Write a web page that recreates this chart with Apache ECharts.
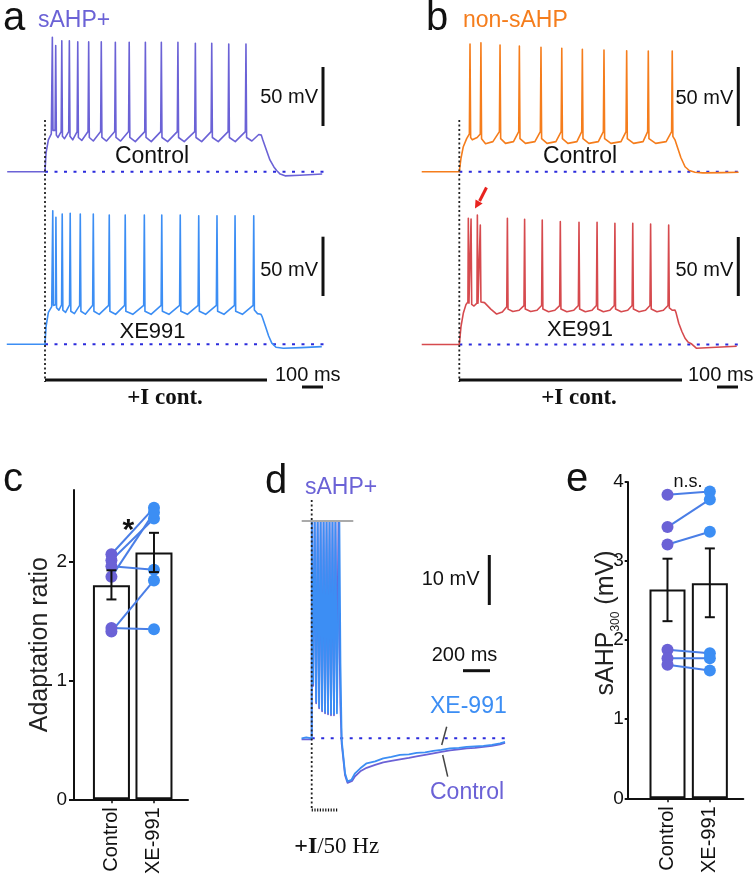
<!DOCTYPE html>
<html>
<head>
<meta charset="utf-8">
<title>sAHP / XE991</title>
<script src="https://cdn.jsdelivr.net/npm/echarts@6/dist/echarts.min.js"></script>
<style>
  html, body { margin: 0; padding: 0; background: #fff; }
  #chart { width: 755px; height: 877px; }
</style>
</head>
<body>
<div id="chart"></div>
<script>
// ---- traces (time ms, membrane potential mV) ----
const aControl = [
  [-180,-65],[0,-65],[5,-49],[16,-38],[30,-33],
  [35,49],[38,-30],[44,-31],[48,-30],
  [51,42],[54,-34],[62,-36],[77,-31],
  [80,46],[83,-35],[93,-37],[113,-31],
  [116,46],[119,-35],[132,-38],[153,-31],
  [156,45],[159,-36],[175,-38.5],[205,-31],
  [208,45],[211,-36],[230,-39],[265,-31],
  [268,45],[271,-36],[293,-39],[332,-31],
  [335,44.7],[338,-36],[360,-39],[398,-31],
  [401,44.7],[404,-36],[430,-39.5],[475,-31],
  [478,44.7],[481,-36],[506,-39.5],[551,-31],
  [554,44.7],[557,-36],[584,-39.5],[630,-31],
  [633,44.7],[636,-36],[663,-39.5],[713,-31],
  [716,43.8],[719,-36],[746,-39.5],[791,-31],
  [794,43.8],[797,-36],[825,-39.5],[872,-31],
  [875,43.2],[878,-36],[906,-39.5],[954,-31],
  [957,43.2],[960,-36],[985,-39],[1018,-33.5],[1024,-32],[1030,-34],[1037,-38],
  [1055,-47],[1071,-55],[1090,-61],[1103,-64],[1120,-67],[1143,-68.5],[1214,-68],[1320,-67]
];
const aXE991 = [
  [-182,-65],[0,-65],[5,-50],[16,-38],[32,-33],
  [37,48.2],[40,-32],[46,-33],[50,-31.5],
  [52,42.6],[55,-34],[66,-36],[79,-31.5],
  [82,45.4],[85,-36],[98,-38],[117,-31.5],
  [120,46],[123,-37],[140,-39],[165,-32],
  [168,45.4],[171,-37],[192,-39.5],[227,-32],
  [230,45.4],[233,-37],[258,-39.6],[303,-32],
  [306,44.6],[309,-37],[336,-39.6],[379,-32],
  [382,44.6],[385,-37],[418,-39.6],[470,-32],
  [473,44.6],[476,-37],[505,-39.6],[553,-32],
  [556,44.6],[559,-37],[590,-39.6],[641,-32],
  [644,44.6],[647,-37],[678,-39.6],[729,-32],
  [732,44],[735,-37],[765,-39.6],[816,-32],
  [819,44],[822,-37],[852,-39.6],[902,-32],
  [905,44],[908,-37],[940,-39.6],[991,-32],
  [994,44],[997,-36],[1012,-39],[1028,-39.5],[1035,-42],[1050,-50],[1065,-58],
  [1080,-64],[1100,-67.5],[1135,-68.4],[1220,-67.8],[1318,-67]
];
const bControl = [
  [-179,-65],[0,-65],[8,-53.6],[19,-43.8],[35,-37],[48,-33],
  [51,43.2],[54,-36],[62,-38],[85,-36],[100,-33],
  [103,44.3],[106,-37],[125,-41.3],[160,-39.5],[191,-31],
  [194,42.4],[197,-37],[220,-41],[258,-39.5],[283,-31],
  [286,41.5],[289,-37],[315,-41],[360,-39.5],[386,-31],
  [389,40.4],[392,-37],[418,-41],[460,-39.5],[485,-31],
  [488,39.6],[491,-37],[517,-41],[560,-39.5],[583,-31],
  [586,38.7],[589,-37],[617,-41],[662,-39.5],[686,-31],
  [689,38.1],[692,-37],[722,-41],[770,-39.5],[794,-31],
  [797,37.5],[800,-37],[830,-41],[875,-39.5],[897,-31],
  [900,37.3],[903,-37],[935,-41],[985,-39.5],[1011,-31],
  [1014,37.3],[1017,-35],[1027,-38],[1040,-45],[1055,-53],[1075,-60.8],[1095,-64],
  [1122,-65.5],[1160,-66],[1250,-65.8],[1330,-65.5]
];
const bXE991 = [
  [-179,-65],[0,-65],[8,-49.9],[19,-38.6],[32,-31],[41,-29],
  [43,42],[46,-30],[50,-31],[54,-29.5],
  [56,41.4],[59,-31],[70,-32.4],[84,-30],
  [86,44.7],[89,-30],[95,-30],[98,-29],
  [100,36.3],[103,-29],[120,-29.5],[150,-35],[178,-39.2],[205,-37.5],[226,-33],
  [229,42],[232,-35],[255,-37],[285,-36],[308,-32],
  [311,41.1],[314,-35],[340,-37],[370,-36],[392,-32],
  [395,40.5],[398,-35],[425,-37.2],[455,-36],[478,-32],
  [481,39.1],[484,-35],[512,-37.2],[545,-36],[567,-32],
  [570,38.6],[573,-35],[600,-37.2],[632,-36],[653,-32],
  [656,38.6],[659,-35],[686,-37.2],[717,-36],[738,-32],
  [741,37.7],[744,-35],[771,-37.2],[802,-36],[823,-32],
  [826,37.7],[829,-35],[856,-37.2],[887,-36],[908,-32],
  [911,37.1],[914,-35],[941,-37.2],[972,-36],[994,-32],
  [997,36.3],[1000,-34],[1015,-36],[1027,-35.8],[1032,-38],[1045,-47],[1060,-54],
  [1075,-59.7],[1090,-63],[1107,-64.6],[1130,-68.2],[1200,-67.5],[1321,-66.5]
];
// panel d: 50 Hz train then slow AHP (spikes clipped at the grey line)
const dControl = [
  [-75,-65.2],[0,-65.2],[1,-21.5],[11,-54.5],[22,-21.5],[33,-58],[44,-21.5],[55,-59],
  [66,-21.5],[77,-59.6],[88,-21.5],[99,-60],[110,-21.5],[121,-60.2],[132,-21.5],
  [143,-60.4],[154,-21.5],[165,-60.4],[176,-21.5],[187,-54],[198,-21.5],[204,-40],
  [212,-58],[222,-66],[247,-72.4],[265,-73.9],[279,-74.3],[300,-73.5],[321,-72.6],
  [360,-71.6],[407,-70.9],[470,-70.3],[530,-69.8],[590,-69.5],[654,-69.2],[720,-68.9],
  [777,-68.6],[840,-68.3],[901,-68],[960,-67.7],[1024,-67.4],[1090,-67.2],[1148,-67],
  [1210,-66.9],[1272,-66.7],[1335,-66.5],[1395,-66.2],[1432,-65.9]
];
const dXE991 = [
  [-75,-65],[-40,-64.8],[0,-65],[1,-21.5],[11,-54],[22,-21.5],[33,-57.7],[44,-21.5],
  [55,-58.7],[66,-21.5],[77,-59.3],[88,-21.5],[99,-59.7],[110,-21.5],[121,-59.9],
  [132,-21.5],[143,-60.1],[154,-21.5],[165,-60.1],[176,-21.5],[187,-60],[205,-21.5],
  [213,-50],[222,-65.3],[247,-72],[265,-73.6],[279,-74],[295,-73.3],[321,-72],
  [360,-71],[407,-70],[470,-69.6],[530,-69],[590,-68.7],[654,-68.3],[720,-68.2],
  [777,-67.9],[840,-67.8],[901,-67.5],[960,-67.3],[1024,-67],[1090,-66.9],[1148,-66.7],
  [1210,-66.6],[1272,-66.5],[1335,-66.3],[1395,-66],[1432,-65.7]
];
const restA = [[0,-65],[1348,-65]];
const restB = [[0,-65],[1351,-65]];
const restD = [[0,-65],[1469,-65]];

// ---- panel c: adaptation ratio ----
const groups = ['Control', 'XE-991'];
const cMean = [1.80, 2.075];
const cLow = [1.68, 1.91];
const cHigh = [1.925, 2.24];
const cControl = [2.06, 2.01, 1.96, 1.87, 1.41, 1.44];
const cXE991 = [2.45, 2.36, 1.93, 2.41, 1.84, 1.43];
const cTicks = [0, 1, 2];

// ---- panel e: sAHP300 (mV) ----
const eMean = [2.64, 2.72];
const eLow = [2.24, 2.29];
const eHigh = [3.03, 3.16];
const eControl = [3.84, 3.43, 3.21, 1.88, 1.77, 1.69];
const eXE991 = [3.88, 3.78, 3.37, 1.835, 1.77, 1.615];
const eTicks = [0, 1, 2, 3, 4];

const SANS = '"Liberation Sans", Arial, Helvetica, sans-serif';
const SERIF = '"Liberation Serif", "Times New Roman", serif';
const PURPLE = '#6b62d6';
const BLUE = '#3c8ef4';
const ORANGE = '#f57d1c';
const RED = '#d64a4e';
const PAIR = '#4a7ee6';
const DOTBLUE = '#2b2bdc';

const chart = echarts.init(document.getElementById('chart'), null, { renderer: 'canvas' });

// trace panels are placed so that 100 ms = 21 px and 50 mV = 59 px (a, b); 200 ms = 27 px, 10 mV = 50 px (d)
const grid = [
  { left: 7.2, top: 30.1, width: 321.3, height: 153.4 },
  { left: 7.2, top: 202.7, width: 321.3, height: 153.4 },
  { left: 421.5, top: 30.1, width: 321.3, height: 153.4 },
  { left: 421.5, top: 202.9, width: 321.3, height: 153.4 },
  { left: 300.9, top: 513.3, width: 209.25, height: 300 },
  { left: 74, top: 490, width: 114, height: 310 },
  { left: 627.7, top: 482, width: 115.6, height: 316.3 }
];

const hidden = (i, min, max) => ({ gridIndex: i, type: 'value', min, max, show: false });

function barAxes(i, xMin, xMax, yMax, ticks, name, tickLen, labelMargin) {
  const x = {
    gridIndex: i, type: 'value', min: xMin, max: xMax,
    axisLine: { show: true, onZero: false, lineStyle: { color: '#111', width: 2 } },
    axisTick: { show: true, customValues: [1, 2], length: 4, lineStyle: { color: '#111', width: 1.5 } },
    axisLabel: {
      customValues: [1, 2], rotate: 90, margin: 8,
      formatter: v => groups[Math.round(v) - 1] || '',
      fontFamily: SANS, fontSize: 20, color: '#111'
    },
    splitLine: { show: false }
  };
  const y = {
    gridIndex: i, type: 'value', min: 0, max: yMax, interval: 1,
    axisLine: { show: true, lineStyle: { color: '#111', width: 2 } },
    axisTick: { show: true, customValues: ticks, length: tickLen, lineStyle: { color: '#111', width: 2 } },
    axisLabel: { customValues: ticks, margin: labelMargin, fontFamily: SANS, fontSize: 19, color: '#111' },
    splitLine: { show: false }
  };
  if (name) {
    Object.assign(y, { name: name.text, nameLocation: 'middle', nameGap: name.gap, nameRotate: 90,
      nameTextStyle: name.style });
  }
  return [x, y];
}

const [cx, cy] = barAxes(5, 0.12, 2.8, 2.6, cTicks,
  { text: 'Adaptation ratio', gap: 19, style: { fontFamily: SANS, fontSize: 25, color: '#222' } }, 5, 7);
const [ex, ey] = barAxes(6, 0.06, 2.79, 4, eTicks, null, 3, 4);

const xAxis = [
  hidden(0, -180, 1350), hidden(1, -180, 1350), hidden(2, -180, 1350), hidden(3, -180, 1350),
  hidden(4, -80, 1470), cx, ex
];
const yAxis = [
  hidden(0, -75, 55), hidden(1, -75, 55), hidden(2, -75, 55), hidden(3, -75, 55),
  hidden(4, -80, -20), cy, ey
];

function trace(i, data, color, width) {
  return {
    type: 'line', xAxisIndex: i, yAxisIndex: i, data, showSymbol: false, symbol: 'none',
    lineStyle: { color, width: width || 1.6, join: 'round' }, silent: true, z: 3
  };
}
function rest(i, data) {
  return {
    type: 'line', xAxisIndex: i, yAxisIndex: i, data, symbol: 'none', silent: true, z: 2,
    lineStyle: { color: DOTBLUE, width: 2, type: [3, 6.5] }
  };
}
function errorBars(i, low, high) {
  return {
    type: 'custom', xAxisIndex: i, yAxisIndex: i, z: 6, silent: true,
    data: low.map((l, k) => [k + 1, l, high[k]]),
    renderItem: (params, api) => {
      const a = api.coord([api.value(0), api.value(1)]);
      const b = api.coord([api.value(0), api.value(2)]);
      const st = { stroke: '#111', lineWidth: 2 };
      return { type: 'group', children: [
        { type: 'line', shape: { x1: a[0], y1: a[1], x2: b[0], y2: b[1] }, style: st },
        { type: 'line', shape: { x1: a[0] - 5, y1: a[1], x2: a[0] + 5, y2: a[1] }, style: st },
        { type: 'line', shape: { x1: b[0] - 5, y1: b[1], x2: b[0] + 5, y2: b[1] }, style: st }
      ] };
    }
  };
}
function barPanel(i, mean, low, high, ctrl, xe, barW) {
  const s = [{
    type: 'bar', xAxisIndex: i, yAxisIndex: i, barWidth: barW, silent: true, z: 2,
    data: mean.map((m, k) => [k + 1, m]),
    itemStyle: { color: '#fff', borderColor: '#111', borderWidth: 2 }
  }];
  ctrl.forEach((v, k) => s.push({
    type: 'line', xAxisIndex: i, yAxisIndex: i, symbol: 'none', silent: true, z: 3,
    data: [[1, v], [2, xe[k]]], lineStyle: { color: PAIR, width: 2 }
  }));
  s.push({ type: 'scatter', xAxisIndex: i, yAxisIndex: i, symbolSize: 12, silent: true, z: 4,
    data: ctrl.map(v => [1, v]), itemStyle: { color: PURPLE, opacity: 1 } });
  s.push({ type: 'scatter', xAxisIndex: i, yAxisIndex: i, symbolSize: 12, silent: true, z: 4,
    data: xe.map(v => [2, v]), itemStyle: { color: BLUE, opacity: 1 } });
  s.push(errorBars(i, low, high));
  return s;
}

const series = [
  rest(0, restA), trace(0, aControl, PURPLE),
  rest(1, restA), trace(1, aXE991, BLUE),
  rest(2, restB), trace(2, bControl, ORANGE),
  rest(3, restB), trace(3, bXE991, RED),
  rest(4, restD), trace(4, dControl, PURPLE, 1.8), trace(4, dXE991, BLUE, 1.8),
  ...barPanel(5, cMean, cLow, cHigh, cControl, cXE991, 37),
  ...barPanel(6, eMean, eLow, eHigh, eControl, eXE991, 36)
];

// annotation helpers (pixel positions)
const txt = (text, x, y, o) => ({
  type: 'text', x, y, silent: true, z: 10,
  style: Object.assign({ text, fill: '#111', font: '20px ' + SANS, align: 'left', verticalAlign: 'middle',
    textAlign: 'left', textVerticalAlign: 'middle' }, o || {})
});
const seg = (x1, y1, x2, y2, o) => ({
  type: 'line', silent: true, z: 9, shape: { x1, y1, x2, y2 },
  style: Object.assign({ stroke: '#111', lineWidth: 3 }, o || {})
});
const dotted = { lineWidth: 1.8, lineDash: [2, 2.5], stroke: '#222' };
const R = o => Object.assign({ align: 'right', textAlign: 'right' }, o || {});
const C = o => Object.assign({ align: 'center', textAlign: 'center' }, o || {});

const graphic = [
  // panel letters and titles
  txt('a', 3, 18.5, { font: '40px ' + SANS }),
  txt('sAHP+', 38, 20.7, { font: '23px ' + SANS, fill: PURPLE }),
  txt('b', 426, 18.8, { font: '40px ' + SANS }),
  txt('non-sAHP', 463, 20.7, { font: '23px ' + SANS, fill: ORANGE }),
  txt('c', 3, 479.8, { font: '40px ' + SANS }),
  txt('d', 265, 481.8, { font: '40px ' + SANS }),
  txt('sAHP+', 305, 487.4, { font: '23px ' + SANS, fill: PURPLE }),
  txt('e', 566, 479.8, { font: '40px ' + SANS }),

  // panel a
  txt('Control', 152, 157, C({ font: '23px ' + SANS })),
  txt('XE991', 152.5, 331.7, C({ font: '22px ' + SANS })),
  txt('50 mV', 318, 97, R()), seg(323, 67, 323, 126),
  txt('50 mV', 318, 270, R()), seg(323, 236.7, 323, 296),
  seg(45, 120, 45, 382, dotted),
  seg(45, 380, 267, 380), seg(302, 387, 323, 387),
  txt('100 ms', 275, 375),
  txt('+I cont.', 165, 398, C({ font: 'bold 23px ' + SERIF })),

  // panel b
  txt('Control', 580, 157, C({ font: '23px ' + SANS })),
  txt('XE991', 580, 330, C({ font: '22px ' + SANS })),
  txt('50 mV', 733.3, 98, R()), seg(738.3, 67, 738.3, 126),
  txt('50 mV', 733.3, 270, R()), seg(738.3, 237, 738.3, 296),
  seg(459.3, 120, 459.3, 382, dotted),
  seg(459, 380, 682, 380), seg(717, 387, 738, 387),
  txt('100 ms', 688, 375),
  txt('+I cont.', 579, 398, C({ font: 'bold 23px ' + SERIF })),
  seg(486.5, 187.5, 479.6, 201, { stroke: '#e8231f', lineWidth: 3 }),
  { type: 'polygon', silent: true, z: 9, shape: { points: [[475, 208.5], [482.6, 203.6], [475.5, 199.5]] },
    style: { fill: '#e8231f' } },

  // panel c
  txt('*', 128.3, 531, C({ font: 'bold 30px ' + SANS })),

  // panel d
  seg(301.7, 521, 353.3, 521, { stroke: '#aaa', lineWidth: 2 }),
  seg(311.7, 500, 311.7, 808, dotted),
  seg(311.7, 810, 338.3, 810, { lineWidth: 3, lineDash: [1.2, 1.5] }),
  txt('10 mV', 421.7, 579), seg(489.3, 555, 489.3, 605),
  txt('200 ms', 431.7, 655), seg(463, 670.7, 490, 670.7),
  txt('XE-991', 430, 706.7, { font: '23px ' + SANS, fill: BLUE }),
  txt('Control', 430, 793, { font: '23px ' + SANS, fill: PURPLE }),
  seg(446.7, 726.7, 441.7, 745, { stroke: '#444', lineWidth: 1.5 }),
  seg(442.7, 755, 447.7, 776.7, { stroke: '#444', lineWidth: 1.5 }),
  { type: 'text', x: 336.7, y: 846.7, silent: true, z: 10,
    style: { text: '{b|+I}{r|/50 Hz}', align: 'center', verticalAlign: 'middle',
      textAlign: 'center', textVerticalAlign: 'middle',
      rich: { b: { fontFamily: SERIF, fontSize: 24, fontWeight: 'bold', fill: '#111' },
              r: { fontFamily: SERIF, fontSize: 23, fill: '#111' } } } },

  // panel e
  txt('n.s.', 688, 482, C({ font: '18px ' + SANS })),
  { type: 'text', x: 606, y: 623, rotation: Math.PI / 2, silent: true, z: 10,
    style: { text: '{m|sAHP}{s|300}{m| (mV)}', align: 'center', verticalAlign: 'middle',
      textAlign: 'center', textVerticalAlign: 'middle',
      rich: { m: { fontFamily: SANS, fontSize: 25, fill: '#222' },
              s: { fontFamily: SANS, fontSize: 12, fill: '#222', verticalAlign: 'bottom', padding: [0, 0, -3, 0] } } } }
];

chart.setOption({
  animation: false,
  backgroundColor: '#fff',
  grid, xAxis, yAxis, series, graphic
});
</script>
</body>
</html>
